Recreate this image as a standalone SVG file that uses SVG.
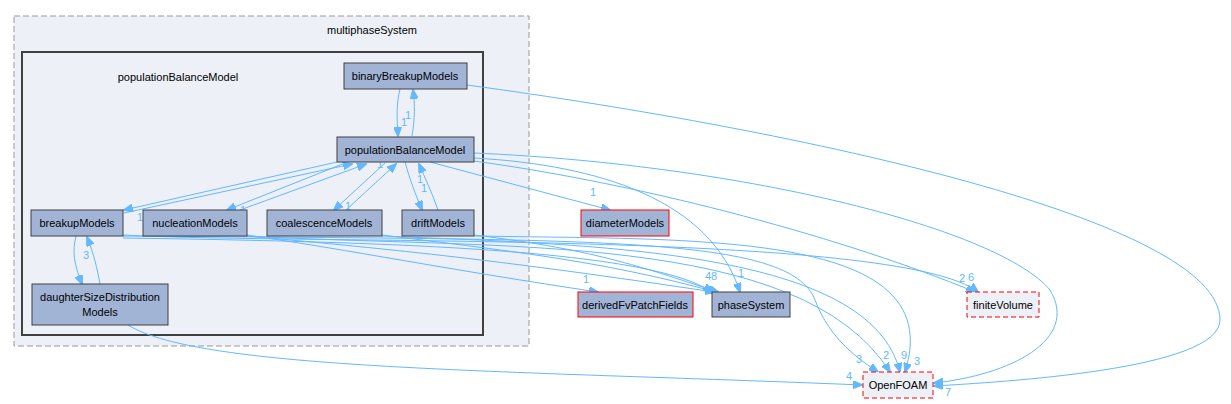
<svg xmlns="http://www.w3.org/2000/svg" width="1231" height="404" viewBox="0 0 1231 404">
<style>
text{font-family:"Liberation Sans",Arial,sans-serif;font-size:11px;fill:#000;text-anchor:middle}
.n{fill:#a2b4d6;stroke:#404040;stroke-width:1}
.r{fill:#a2b4d6;stroke:#ff0000;stroke-width:1}
.d{fill:#edf0f7;stroke:#ff0000;stroke-width:1;stroke-dasharray:5,3}
.e{fill:none;stroke:#63b8ff;stroke-width:1}
.l{fill:#63b8ff;font-size:11px}
</style>
<defs><marker id="a" markerWidth="10" markerHeight="8" refX="9" refY="4" orient="auto" markerUnits="userSpaceOnUse"><path d="M0,0L10,4L0,8z" fill="#63b8ff" stroke="#63b8ff"/></marker></defs>
<rect width="1231" height="404" fill="#fff"/>
<g id="multiphaseSystem"><rect x="14" y="16" width="515" height="330" fill="#edf0f7" stroke="#999" stroke-dasharray="6,3"/><text x="372" y="34">multiphaseSystem</text></g>
<g id="populationBalanceModelCluster"><rect x="22" y="52" width="461" height="283" fill="#edf0f7" stroke="#404040" stroke-width="2"/><text x="178" y="81">populationBalanceModel</text></g>
<g id="connectors">
<path class="e" marker-end="url(#a)" d="M400,89C396,105 397,118 398,136"/>
<path class="e" marker-end="url(#a)" d="M412,136C415,118 415,105 413,90"/>
<path class="e" marker-end="url(#a)" d="M337,162L124,210"/>
<path class="e" marker-end="url(#a)" d="M124,213L352,164"/>
<path class="e" marker-end="url(#a)" d="M345,163L227,210"/>
<path class="e" marker-end="url(#a)" d="M240,210L366,164"/>
<path class="e" marker-end="url(#a)" d="M385,163L334,210"/>
<path class="e" marker-end="url(#a)" d="M346,210L396,164"/>
<path class="e" marker-end="url(#a)" d="M405,162C410,180 415,193 422,210"/>
<path class="e" marker-end="url(#a)" d="M438,210C432,193 426,180 419,164"/>
<path class="e" marker-end="url(#a)" d="M430,162L610,210"/>
<path class="e" marker-end="url(#a)" d="M474,158C600,165 710,200 740,292"/>
<path class="e" marker-end="url(#a)" d="M474,161C650,185 850,240 975,292"/>
<path class="e" marker-end="url(#a)" d="M474,153C750,165 1000,230 1050,290C1080,340 1010,375 934,383"/>
<path class="e" marker-end="url(#a)" d="M467,85C800,130 1220,220 1220,320C1220,370 1000,382 934,386"/>
<path class="e" marker-end="url(#a)" d="M76,236C72,252 74,264 82,284"/>
<path class="e" marker-end="url(#a)" d="M100,284C97,268 94,254 87,237"/>
<path class="e" marker-end="url(#a)" d="M123,235C300,245 900,230 978,292"/>
<path class="e" marker-end="url(#a)" d="M123,238C400,242 650,250 712,292"/>
<path class="e" marker-end="url(#a)" d="M123,236C600,240 790,235 815,300C830,340 860,360 878,372"/>
<path class="e" marker-end="url(#a)" d="M247,235C350,250 450,270 598,292"/>
<path class="e" marker-end="url(#a)" d="M247,236C400,250 500,260 714,292"/>
<path class="e" marker-end="url(#a)" d="M247,236C500,250 800,230 890,372"/>
<path class="e" marker-end="url(#a)" d="M382,235C500,250 600,260 716,292"/>
<path class="e" marker-end="url(#a)" d="M382,236C600,245 870,250 900,372"/>
<path class="e" marker-end="url(#a)" d="M474,235C600,250 650,270 718,292"/>
<path class="e" marker-end="url(#a)" d="M474,236C700,240 950,230 905,372"/>
<path class="e" marker-end="url(#a)" d="M128,325C200,370 500,370 862,385"/>
</g>
<g fill="#63b8ff">
<text class="l" x="408" y="119">1</text><text class="l" x="404" y="126">1</text>
<text class="l" x="140" y="221">1</text><text class="l" x="243" y="214">1</text>
<text class="l" x="380" y="168">1</text><text class="l" x="348" y="210">1</text>
<text class="l" x="420" y="183">1</text><text class="l" x="424" y="192">1</text>
<text class="l" x="86" y="259">3</text>
<text class="l" x="593" y="196">1</text><text class="l" x="586" y="283">1</text>
<text class="l" x="708" y="280">4</text><text class="l" x="714" y="280">8</text><text class="l" x="741" y="277">1</text>
<text class="l" x="962" y="282">2</text><text class="l" x="971" y="281">6</text>
<text class="l" x="859" y="363">3</text><text class="l" x="886" y="359">2</text><text class="l" x="904" y="359">9</text><text class="l" x="917" y="365">3</text>
<text class="l" x="849" y="380">4</text><text class="l" x="948" y="396">7</text>
</g>
<g id="binaryBreakupModels"><rect class="n" x="344" y="63" width="123" height="26"/><text x="405" y="80">binaryBreakupModels</text></g>
<g id="populationBalanceModel"><rect class="n" x="337" y="137" width="137" height="25"/><text x="405" y="154">populationBalanceModel</text></g>
<g id="breakupModels"><rect class="n" x="31" y="210" width="92" height="26"/><text x="77" y="227">breakupModels</text></g>
<g id="nucleationModels"><rect class="n" x="143" y="210" width="104" height="26"/><text x="195" y="227">nucleationModels</text></g>
<g id="coalescenceModels"><rect class="n" x="267" y="210" width="115" height="26"/><text x="324" y="227">coalescenceModels</text></g>
<g id="driftModels"><rect class="n" x="402" y="210" width="72" height="26"/><text x="438" y="227">driftModels</text></g>
<g id="daughterSizeDistributionModels"><rect class="n" x="32" y="284" width="136" height="41"/><text x="100" y="301">daughterSizeDistribution</text><text x="100" y="316">Models</text></g>
<g id="diameterModels"><rect class="r" x="581" y="210" width="88" height="26"/><text x="625" y="227">diameterModels</text></g>
<g id="derivedFvPatchFields"><rect class="r" x="578" y="292" width="115" height="25"/><text x="635" y="309">derivedFvPatchFields</text></g>
<g id="phaseSystem"><rect class="n" x="712" y="292" width="78" height="25"/><text x="751" y="309">phaseSystem</text></g>
<g id="finiteVolume"><rect class="d" x="967" y="292" width="72" height="25"/><text x="1003" y="309">finiteVolume</text></g>
<g id="OpenFOAM"><rect class="d" x="863" y="372" width="70" height="26"/><text x="898" y="389">OpenFOAM</text></g>
</svg>
